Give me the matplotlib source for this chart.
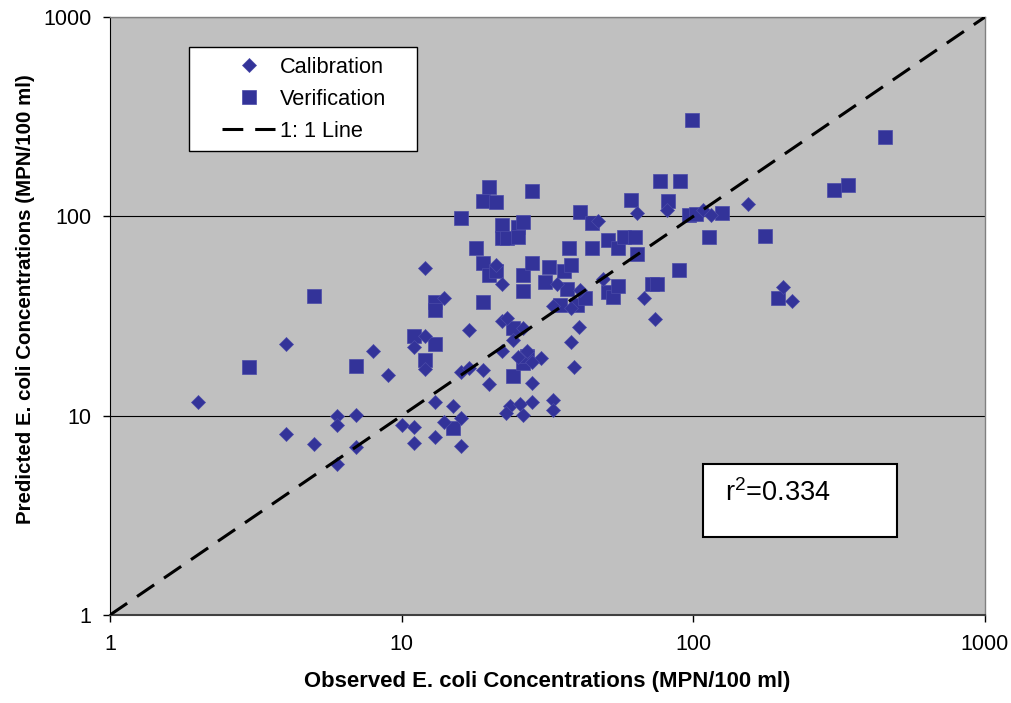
import matplotlib
matplotlib.use('Agg')
import matplotlib.pyplot as plt
from matplotlib.lines import Line2D
from matplotlib.legend_handler import HandlerLine2D

plt.rcParams['font.family'] = ['Liberation Sans', 'DejaVu Sans']

# Calibration data set: observed vs predicted E. coli (MPN/100 ml)
cal_obs = [2, 4, 4, 5, 6, 6, 6, 7, 7, 8, 9, 10, 11, 11, 11, 12, 12, 12,
           13, 13, 14, 14, 15, 16, 16, 16, 17, 17, 19, 20, 21, 22, 22, 23,
           22, 24, 26, 25, 27, 30, 28, 28, 23.5, 25.5, 28, 22.8, 26, 33,
           33, 33, 34, 38, 41, 40.5, 38, 39, 47, 49, 64, 68, 74, 81, 108,
           115, 154, 203, 218]
cal_pred = [11.7, 23, 8.1, 7.2, 10, 9, 5.7, 10.1, 7.0, 21, 16, 9, 22, 8.8,
            7.3, 55, 25, 17.2, 11.7, 7.8, 39, 9.3, 11.2, 9.7, 7.05, 16.6,
            17.4, 27, 17, 14.4, 57, 46, 30, 31, 21, 24, 27.5, 19.7, 21,
            19.5, 18.5, 14.5, 11.2, 11.4, 11.7, 10.3, 10.1, 12, 10.7, 35.5,
            46, 34.8, 42.6, 28, 23.4, 17.5, 95, 48.5, 104, 39, 30.5, 107,
            108, 101, 115, 44, 37.6]

# Verification data set
ver_obs = [3, 5, 7, 11, 12, 13, 13, 13, 15, 16, 18, 19, 19, 19, 20, 20, 21,
           21, 22, 22, 23, 24, 24, 25, 25, 26, 26, 26, 26, 27, 28, 28, 31,
           32, 35, 36, 37, 37.5, 38, 40, 41, 42.5, 45, 45, 51, 51, 53, 55,
           55, 58, 61, 63, 64, 72, 75, 77, 82, 89, 90, 97, 99, 102, 113,
           125, 176, 195, 303, 340, 454]
ver_pred = [17.5, 40, 17.8, 25, 19, 37, 34, 23, 8.7, 98, 69, 119, 58, 37,
            140, 51, 118, 53, 90, 78, 78, 27.5, 15.8, 88, 79, 94, 51, 42,
            18.4, 20, 134, 58, 47, 56, 36, 53, 43, 69, 57, 36, 105, 39, 93,
            69, 76, 41.5, 39.5, 69, 44.7, 79, 121, 79, 65, 46, 46, 150, 119,
            54, 150, 101, 305, 103, 79, 104, 80, 39, 136, 144, 250]

one_to_one = [1, 1000]
ticks = [1, 10, 100, 1000]
r2_text = r'r$^{\mathregular{2}}$=0.334'

navy = '#333399'

fig = plt.figure(figsize=(10.12, 7.03), dpi=100)
ax = fig.add_axes([0.1087, 0.1252, 0.8646, 0.8506])
ax.set_facecolor('#c0c0c0')

ax.set_xscale('log')
ax.set_yscale('log')
ax.set_xlim(1, 1000)
ax.set_ylim(1, 1000)

ax.grid(True, axis='y', which='major', color='black', linewidth=0.8)
ax.set_axisbelow(True)

ver, = ax.plot(ver_obs, ver_pred, linestyle='none', marker='s',
               markersize=9.4, color=navy, markeredgecolor='#4a4aa8',
               markeredgewidth=0.5, label='Verification', zorder=3)
cal, = ax.plot(cal_obs, cal_pred, linestyle='none', marker='D',
               markersize=7.6, color=navy, markeredgecolor='#4a4aa8',
               markeredgewidth=0.5, label='Calibration', zorder=4)
line, = ax.plot(one_to_one, one_to_one, color='black', linewidth=2.2,
                dashes=(6.8, 3.9), label='1: 1 Line', zorder=5)

ax.set_xticks(ticks)
ax.set_yticks(ticks)
ax.set_xticklabels([str(t) for t in ticks])
ax.set_yticklabels([str(t) for t in ticks])
ax.minorticks_off()
ax.tick_params(axis='both', which='major', direction='out', length=5,
               width=1, color='black', labelsize=15.5, pad=8.5)

for side in ['top', 'right']:
    ax.spines[side].set_color('#808080')
    ax.spines[side].set_linewidth(1)
ax.spines['left'].set_color('black')
ax.spines['bottom'].set_color('#404040')
ax.spines['bottom'].set_linewidth(1.5)

ax.set_xlabel('Observed E. coli Concentrations (MPN/100 ml)',
              fontsize=15.9, fontweight='bold', labelpad=12)
ax.set_ylabel('Predicted E. coli Concentrations (MPN/100 ml)',
              fontsize=14.8, fontweight='bold')
ax.yaxis.set_label_coords(-0.0857, 0.528)

leg = ax.legend(handles=[cal, ver, line], loc='upper left',
                bbox_to_anchor=(0.0903, 0.7876, 0.2606, 0.1622),
                mode='expand', borderaxespad=0, borderpad=0.44,
                labelspacing=0.51, handlelength=3.49, handletextpad=0.25,
                fontsize=15.7, fancybox=False, framealpha=1,
                handler_map={Line2D: HandlerLine2D(xpad=1.09)})
leg.get_frame().set_edgecolor('black')
leg.get_frame().set_linewidth(1)

# white box with the r-squared annotation
ax.add_patch(plt.Rectangle((0.6777, 0.1304), 0.2217, 0.1221,
                           transform=ax.transAxes, facecolor='white',
                           edgecolor='black', linewidth=1.5, zorder=5.5))
ax.text(0.7029, 0.2274, r2_text, transform=ax.transAxes, fontsize=19.5,
        ha='left', va='top', zorder=6)

fig.savefig('out.png', dpi=100)
